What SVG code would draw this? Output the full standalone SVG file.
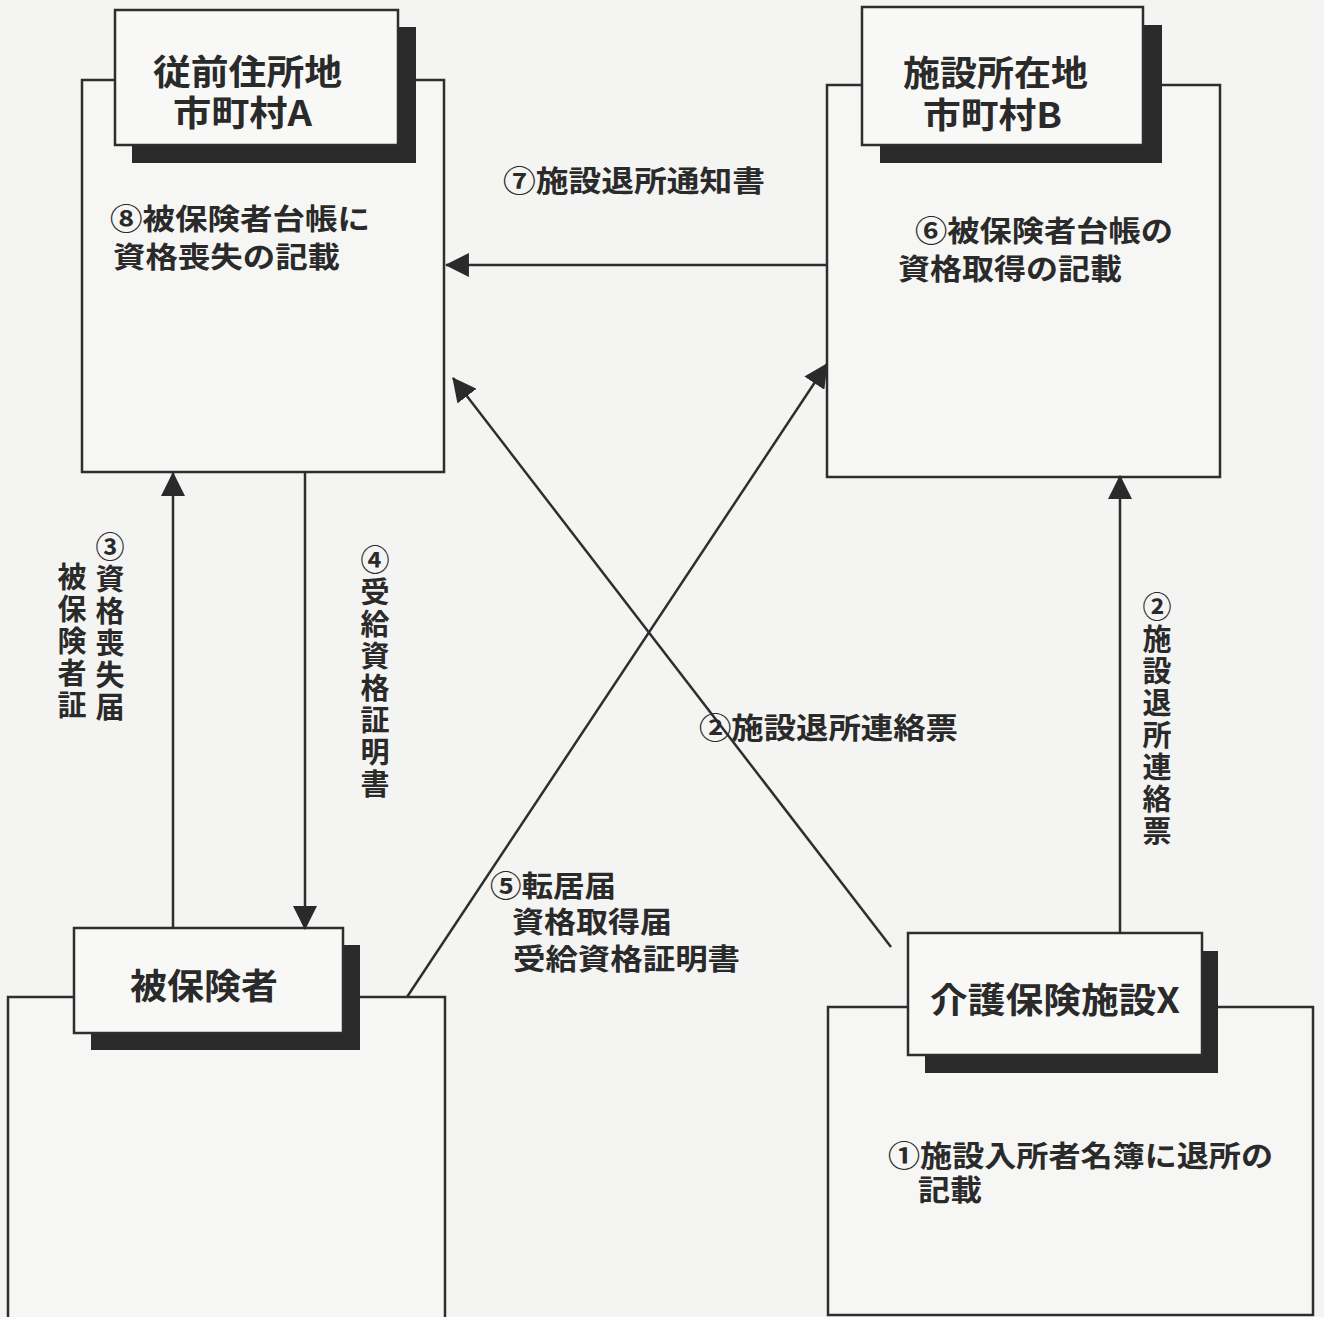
<svg xmlns="http://www.w3.org/2000/svg" width="1324" height="1317" viewBox="0 0 1324 1317">
<style>
.bg{fill:#f4f4f2}
.box{fill:#f6f6f4;stroke:#2e2e2e;stroke-width:2.5}
.hdr{fill:#f8f8f6;stroke:#2e2e2e;stroke-width:2.5}
.shd{fill:#2a2a2a}
.ln{stroke:#2e2e2e;stroke-width:2.5;fill:none;marker-end:url(#ah)}
text{font-family:"Noto Sans CJK JP","Liberation Sans",sans-serif;fill:#2a2a2a;font-weight:bold}
.h{font-size:35px}
.t{font-size:29px}
.v{font-size:29px;writing-mode:vertical-rl;text-orientation:upright;letter-spacing:3px}
</style>
<defs>
<marker id="ah" markerUnits="userSpaceOnUse" markerWidth="24" markerHeight="24" viewBox="0 0 22 22" refX="21" refY="11" orient="auto">
<path d="M0,0 L22,11 L0,22 Z" fill="#2a2a2a"/>
</marker>
</defs>
<rect class="bg" x="0" y="0" width="1324" height="1317"/>

<g id="node-A">
<rect class="box" x="82" y="80" width="362" height="392"/>
<rect class="shd" x="132" y="27" width="284" height="136"/>
<rect class="hdr" x="115" y="10" width="283" height="135"/>
<text class="h" x="153" y="85" textLength="189" lengthAdjust="spacingAndGlyphs">従前住所地</text>
<text class="h" x="173" y="126" textLength="139" lengthAdjust="spacingAndGlyphs">市町村A</text>
<text class="t" x="110" y="230" textLength="260" lengthAdjust="spacingAndGlyphs">⑧被保険者台帳に</text>
<text class="t" x="113" y="268" textLength="227" lengthAdjust="spacingAndGlyphs">資格喪失の記載</text>
</g>

<g id="node-B">
<rect class="box" x="827" y="85" width="393" height="392"/>
<rect class="shd" x="880" y="25" width="282" height="138"/>
<rect class="hdr" x="862" y="7" width="281" height="138"/>
<text class="h" x="903" y="86" textLength="185" lengthAdjust="spacingAndGlyphs">施設所在地</text>
<text class="h" x="923" y="128" textLength="139" lengthAdjust="spacingAndGlyphs">市町村B</text>
<text class="t" x="915" y="242" textLength="258" lengthAdjust="spacingAndGlyphs">⑥被保険者台帳の</text>
<text class="t" x="898" y="280" textLength="224" lengthAdjust="spacingAndGlyphs">資格取得の記載</text>
</g>

<g id="node-insured">
<rect class="box" x="8" y="997" width="437" height="340"/>
<rect class="shd" x="91" y="945" width="269" height="105"/>
<rect class="hdr" x="74" y="928" width="269" height="105"/>
<text class="h" x="130" y="999" textLength="148" lengthAdjust="spacingAndGlyphs">被保険者</text>
</g>

<g id="node-X">
<rect class="box" x="828" y="1007" width="485" height="308"/>
<rect class="shd" x="925" y="951" width="293" height="122"/>
<rect class="hdr" x="908" y="933" width="294" height="122"/>
<text class="h" x="930" y="1013" textLength="250" lengthAdjust="spacingAndGlyphs">介護保険施設X</text>
<text class="t" x="888" y="1167" textLength="385" lengthAdjust="spacingAndGlyphs">①施設入所者名簿に退所の</text>
<text class="t" x="918" y="1201" textLength="64" lengthAdjust="spacingAndGlyphs">記載</text>
</g>

<g id="connectors">
<line class="ln" x1="827" y1="265" x2="446" y2="265"/>
<line class="ln" x1="173" y1="928" x2="173" y2="473"/>
<line class="ln" x1="305" y1="472" x2="305" y2="929"/>
<line class="ln" x1="407" y1="997" x2="827" y2="364"/>
<line class="ln" x1="891" y1="947" x2="453" y2="378"/>
<line class="ln" x1="1120" y1="933" x2="1120" y2="476"/>
</g>

<g id="labels">
<text class="t" x="503" y="192" textLength="262" lengthAdjust="spacingAndGlyphs">⑦施設退所通知書</text>
<text class="t" x="699" y="739" textLength="259" lengthAdjust="spacingAndGlyphs">②施設退所連絡票</text>
<text class="t" x="490" y="897" textLength="126" lengthAdjust="spacingAndGlyphs">⑤転居届</text>
<text class="t" x="512" y="933" textLength="160" lengthAdjust="spacingAndGlyphs">資格取得届</text>
<text class="t" x="513" y="970" textLength="227" lengthAdjust="spacingAndGlyphs">受給資格証明書</text>

<text class="v" x="110" y="532">③資格喪失届</text>
<text class="v" x="72" y="562">被保険者証</text>
<text class="v" x="375" y="545">④受給資格証明書</text>
<text class="v" x="1157" y="592">②施設退所連絡票</text>
</g>
</svg>
